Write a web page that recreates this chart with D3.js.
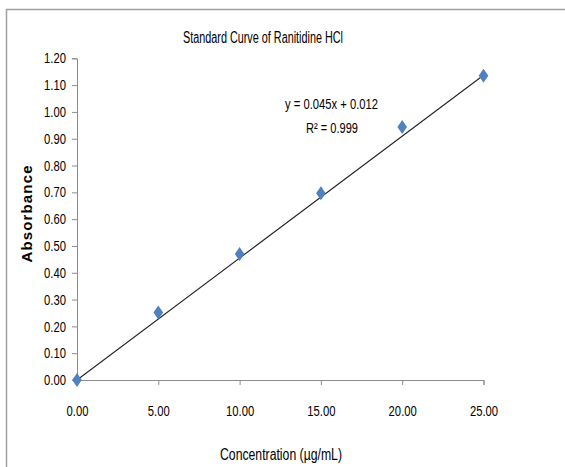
<!DOCTYPE html>
<html><head><meta charset="utf-8">
<script src="https://cdn.jsdelivr.net/npm/d3@7"></script>
<style>
body{margin:0;background:#fff;}
text{font-family:"Liberation Sans",Arial,sans-serif;fill:#000;}
</style></head>
<body>
<svg id="c" width="565" height="467"></svg>
<script>
const concentration = [0, 5, 10, 15, 20, 25];
const absorbance = [0.000, 0.252, 0.470, 0.697, 0.944, 1.135];
const xTicks = [0, 5, 10, 15, 20, 25];
const yTicks = [0, 0.1, 0.2, 0.3, 0.4, 0.5, 0.6, 0.7, 0.8, 0.9, 1.0, 1.1, 1.2];
const slope = 0.045, intercept = 0.012;
const titleText = "Standard Curve of Ranitidine HCl";
const xTitle = "Concentration (\u00b5g/mL)";
const yTitle = "Absorbance";
const eqText = "y = 0.045x + 0.012";
const r2Text = "R\u00b2 = 0.999";

const svg = d3.select("#c");
svg.append("rect").attr("x",6.5).attr("y",9.5).attr("width",600).attr("height",500)
  .attr("fill","none").attr("stroke","#a0a0a0").attr("stroke-width",1.5);

const x = d3.scaleLinear().domain([0,25]).range([77,483.5]);
const y = d3.scaleLinear().domain([0,1.2]).range([380,58.3]);

const xAxis = svg.append("g").attr("transform","translate(0,380)")
  .call(d3.axisBottom(x).tickValues(xTicks).tickFormat(d3.format(".2f")).tickSizeOuter(0).tickSize(5).tickPadding(21));
const yAxis = svg.append("g").attr("transform","translate(77,0)")
  .call(d3.axisLeft(y).tickValues(yTicks).tickFormat(d3.format(".2f")).tickSizeOuter(0).tickSize(5).tickPadding(6));
[xAxis,yAxis].forEach(g=>{
  g.selectAll("path").attr("stroke","#8c8c8c");
  g.selectAll("line").attr("stroke","#8c8c8c");
  g.selectAll("text").attr("font-size","14.5px").attr("fill","#000")
   .style("font-family",'"Liberation Sans",Arial,sans-serif')
   .attr("lengthAdjust","spacingAndGlyphs")
   .attr("textLength",function(){const s=this.textContent;return (s.length-1)*6.3+3;});
});

// trendline
svg.append("line")
  .attr("x1",x(0)).attr("y1",y(slope*0+intercept-0.012))
  .attr("x2",x(25)).attr("y2",y(slope*25+intercept))
  .attr("stroke","#222").attr("stroke-width",1.1);

// markers
const diamond = (cx,cy)=>`M${cx},${cy-7}L${cx+4.8},${cy}L${cx},${cy+7}L${cx-4.8},${cy}Z`;
svg.selectAll("path.pt").data(concentration.map((c,i)=>[c,absorbance[i]])).enter()
  .append("path").attr("class","pt")
  .attr("d",d=>diamond(x(d[0]),y(d[1])))
  .attr("fill","#4f81bd");

function lab(t, cx, cy, size, len){
  return svg.append("text").attr("x",cx).attr("y",cy).attr("text-anchor","middle")
    .attr("font-size",size+"px").attr("lengthAdjust","spacingAndGlyphs").attr("textLength",len).text(t);
}
lab(titleText, 263, 42.5, 16, 160);
lab(xTitle, 281, 460, 16, 122);
lab(eqText, 331.5, 108.5, 15, 93);
lab(r2Text, 332, 132.5, 15, 52);
svg.append("text").attr("transform","translate(32,214) rotate(-90)").attr("text-anchor","middle")
  .attr("font-size","15px").attr("font-weight","bold").attr("lengthAdjust","spacing").attr("textLength",97).text(yTitle);
</script>
</body></html>
